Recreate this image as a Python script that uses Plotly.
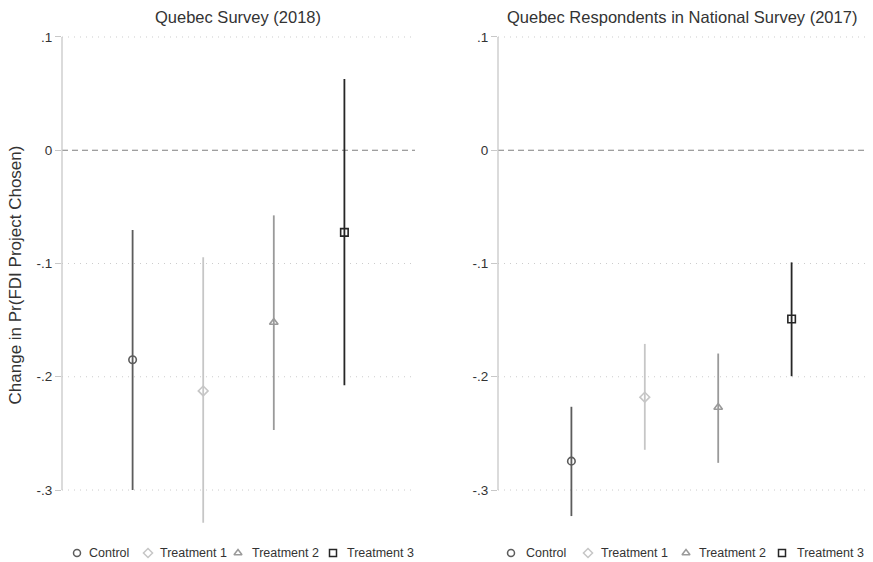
import plotly.graph_objects as go

# Treatment groups and their styling
groups = ["Control", "Treatment 1", "Treatment 2", "Treatment 3"]
symbols = ["circle-open", "diamond-open", "triangle-up-open", "square-open"]
colors = ["#5c5c5c", "#c6c6c6", "#9a9a9a", "#262626"]
positions = [1, 2, 3, 4]

# Quebec Survey (2018): point estimates and 95% CI bounds
qc_est = [-0.185, -0.2125, -0.152, -0.0725]
qc_lo = [-0.300, -0.329, -0.247, -0.2075]
qc_hi = [-0.0705, -0.0945, -0.0575, 0.063]

# Quebec respondents in the national survey (2017)
nat_est = [-0.2745, -0.218, -0.227, -0.149]
nat_lo = [-0.323, -0.2645, -0.276, -0.1995]
nat_hi = [-0.2265, -0.171, -0.1795, -0.099]

titles = ["Quebec Survey (2018)", "Quebec Respondents in National Survey (2017)"]
y_ticks = [0.1, 0.0, -0.1, -0.2, -0.3]
y_ticktext = [".1", "0", "-.1", "-.2", "-.3"]

W, H = 873, 562
FONT = "Liberation Sans, Arial, sans-serif"
TXT = "#333333"
AX = "#c8c8c8"

fig = go.Figure()

panels = [(qc_est, qc_lo, qc_hi), (nat_est, nat_lo, nat_hi)]
x_domains = [[62 / W, 415 / W], [498 / W, 865 / W]]
y_domain = [(H - 530) / H, (H - 20) / H]
y_range = [-0.3353, 0.1150]

for p, (est, lo, hi) in enumerate(panels):
    xa = "x" if p == 0 else "x2"
    ya = "y" if p == 0 else "y2"
    for i, g in enumerate(groups):
        fig.add_trace(go.Scatter(
            x=[positions[i]], y=[est[i]], mode="markers",
            xaxis=xa, yaxis=ya, showlegend=False, name=g,
            marker=dict(symbol=symbols[i], size=7.5, color=colors[i],
                        line=dict(width=1.6, color=colors[i])),
            error_y=dict(type="data", symmetric=False,
                         array=[hi[i] - est[i]], arrayminus=[est[i] - lo[i]],
                         color=colors[i], thickness=1.8, width=0),
        ))

axis_common = dict(range=y_range, domain=y_domain, tickvals=y_ticks, ticktext=y_ticktext,
                   ticks="outside", ticklen=6, tickcolor=AX, tickwidth=1,
                   showgrid=False, zeroline=False, showline=False,
                   tickfont=dict(family=FONT, size=13.5, color=TXT))
xaxis_common = dict(range=[0, 5], visible=False)

fig.update_layout(
    width=W, height=H,
    margin=dict(l=0, r=0, t=0, b=0),
    plot_bgcolor="rgba(0,0,0,0)", paper_bgcolor="white",
    xaxis=dict(domain=x_domains[0], anchor="y", **xaxis_common),
    xaxis2=dict(domain=x_domains[1], anchor="y2", **xaxis_common),
    yaxis=dict(anchor="x", **axis_common,
               title=dict(text="Change in Pr(FDI Project Chosen)",
                          font=dict(family=FONT, size=17, color=TXT), standoff=10)),
    yaxis2=dict(anchor="x2", **axis_common),
    showlegend=False,
)

shapes = []
for p in range(2):
    xr = "x" if p == 0 else "x2"
    yr = "y" if p == 0 else "y2"
    # gridlines and zero reference line
    for t in y_ticks:
        if t == 0:
            shapes.append(dict(type="line", xref=xr + " domain", yref=yr,
                               x0=0, x1=1, y0=t, y1=t,
                               line=dict(color="#808080", width=1.2, dash="6px,4px"), layer="below"))
        else:
            shapes.append(dict(type="line", xref=xr + " domain", yref=yr,
                               x0=0, x1=1, y0=t, y1=t,
                               line=dict(color="#cccccc", width=1, dash="1px,5px"), layer="below"))
    # y-axis line spanning the labelled range
    shapes.append(dict(type="line", xref=xr + " domain", yref=yr,
                       x0=0, x1=0, y0=min(y_ticks), y1=max(y_ticks),
                       line=dict(color=AX, width=1.3), layer="below"))
fig.update_layout(shapes=shapes)

annotations = []
title_x = [(62 + 415) / 2 / W, (498 + 865) / 2 / W]
for p in range(2):
    annotations.append(dict(text=titles[p], x=title_x[p], y=1 - 17 / H, xref="paper", yref="paper",
                            yanchor="middle", xanchor="center", showarrow=False,
                            font=dict(family=FONT, size=16.5, color=TXT)))

# legend keys below each panel (overlay axis in page pixel units)
fig.update_layout(
    xaxis3=dict(domain=[0, 1], range=[0, W], visible=False, anchor="y3"),
    yaxis3=dict(domain=[0, 1], range=[H, 0], visible=False, anchor="x3"),
)
legend_sym_x = [[77, 148, 238, 333], [511, 588, 686, 782]]
legend_txt_x = [[87, 158, 250, 345], [524, 599, 697, 795]]
legend_y = 553
for p in range(2):
    for i, g in enumerate(groups):
        fig.add_trace(go.Scatter(
            x=[legend_sym_x[p][i]], y=[legend_y], mode="markers", xaxis="x3", yaxis="y3",
            showlegend=False, hoverinfo="skip", cliponaxis=False,
            marker=dict(symbol=symbols[i], size=7, color=colors[i],
                        line=dict(width=1.5, color=colors[i])),
        ))
        annotations.append(dict(text=g, x=legend_txt_x[p][i], y=legend_y, xref="x3", yref="y3",
                                xanchor="left", yanchor="middle", showarrow=False,
                                font=dict(family=FONT, size=12.5, color=TXT)))
fig.update_layout(annotations=annotations)

fig.write_html("out.html")
